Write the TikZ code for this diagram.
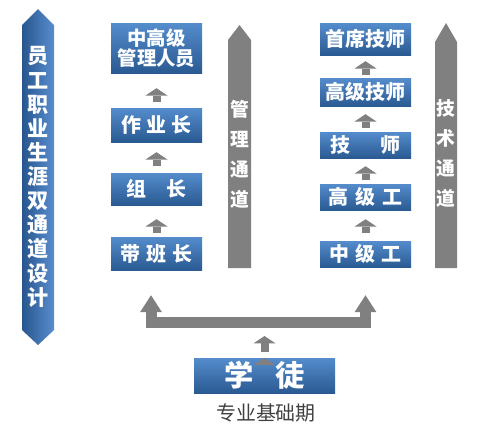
\documentclass[tikz,border=0pt]{standalone}
\usepackage{fontspec}
\setmainfont{Noto Sans CJK SC}
\usetikzlibrary{arrows.meta,calc}

\definecolor{boxtop}{RGB}{84,140,204}
\definecolor{boxbot}{RGB}{42,90,146}
\definecolor{bandl}{RGB}{40,86,142}
\definecolor{bandr}{RGB}{88,142,206}
\definecolor{arrowgray}{RGB}{128,128,128}
\definecolor{notegray}{RGB}{64,64,64}

\begin{document}
\begin{tikzpicture}[x=0.03cm, y=-0.03cm,
    every node/.style={inner sep=0pt},
    stepbox/.style={rectangle, top color=boxtop, bottom color=boxbot, text=white,
        font=\bfseries\fontsize{17}{19}\selectfont, minimum width=2.73cm, align=center},
    steparrow/.style={draw, color=arrowgray, line width=0.24cm,
        -{Triangle[width=0.66cm,length=0.22cm,line width=0pt]}},
    bigarrow/.style={draw, color=arrowgray, line width=0.33cm, line join=miter,
        {Triangle[width=0.66cm,length=0.51cm,line width=0pt]}-{Triangle[width=0.66cm,length=0.51cm,line width=0pt]}},
    lanetext/.style={text=white, font=\bfseries\fontsize{16}{25.6}\selectfont, align=center}
]
\useasboundingbox (0,0) rectangle (486,434);

% left banner
\shade[left color=bandl, right color=bandr]
    (22,25) -- (38,9) -- (54,25) -- (54,330) -- (38,345) -- (22,330) -- cycle;
\node[text=white, font=\bfseries\fontsize{18}{20.6}\selectfont, align=center] (title) at (38,177)
    {员\\工\\职\\业\\生\\涯\\双\\通\\道\\设\\计};

% lanes
\fill[arrowgray] (228,268) -- (228,40) -- (239.5,25) -- (251,40) -- (251,268) -- cycle;
\node[lanetext] (mgmt) at (239.5,154) {管\\理\\通\\道};
\fill[arrowgray] (435,268) -- (435,42) -- (446,23) -- (457,42) -- (457,268) -- cycle;
\node[lanetext] (tech) at (446,153) {技\\术\\通\\道};

% management steps
\node[stepbox, minimum height=1.5cm, font=\bfseries\fontsize{16.5}{17.5}\selectfont] (gj) at (156.5,48) {中高级\\管理人员};
\node[stepbox, minimum height=1.02cm] (zyz) at (156.5,125) {作\hspace{0.25em}业\hspace{0.25em}长};
\node[stepbox, minimum height=0.96cm] (zz)  at (156.5,189) {组\hspace{1em}长};
\node[stepbox, minimum height=0.99cm] (bbz) at (156.5,253.5) {带\hspace{0.3em}班\hspace{0.3em}长};

% technical steps
\node[stepbox, minimum height=0.96cm] (sxjs) at (365.5,39) {首席技师};
\node[stepbox, minimum height=0.84cm] (gjjs) at (365.5,92) {高级技师};
\node[stepbox, minimum height=0.78cm] (js)   at (365.5,145) {技\hspace{1.5em}师};
\node[stepbox, minimum height=0.78cm] (gjg)  at (365.5,197) {高\hspace{0.35em}级\hspace{0.35em}工};
\node[stepbox, minimum height=0.78cm] (zjg)  at (365.5,254) {中\hspace{0.3em}级\hspace{0.3em}工};

% start
\node[stepbox, minimum width=4.23cm, minimum height=1.05cm,
    font=\bfseries\fontsize{25}{27}\selectfont] (xt) at (264.5,375.5) {学\hspace{0.75em}徒};
\node[text=notegray, font=\fontsize{17}{20}\selectfont] (base) at (266,413) {专业基础期};

\coordinate (hub) at (264.5,328);
\coordinate (ul) at ($(bbz.south)+(-5.5,25)$);
\coordinate (ur) at ($(zjg.south)+(0,28)$);

\path[steparrow]
    (zyz) edge[shorten <=0.18cm, shorten >=0.45cm] (gj)
    (zz)  edge[shorten <=0.21cm, shorten >=0.3cm]  (zyz)
    (bbz) edge[shorten <=0.12cm, shorten >=0.42cm] (zz)
    (gjjs) edge[shorten <=0.09cm, shorten >=0.18cm] (sxjs)
    (js)  edge[shorten <=0.12cm, shorten >=0.24cm] (gjjs)
    (gjg) edge[shorten <=0.12cm, shorten >=0.24cm] (js)
    (zjg) edge[shorten <=0.24cm, shorten >=0.27cm] (gjg)
    (xt.north) edge[shorten <=0.18cm, shorten >=0.24cm] (hub);

\draw[bigarrow] (ul) -- ++(0,27.5) -| (ur);
\end{tikzpicture}
\end{document}
